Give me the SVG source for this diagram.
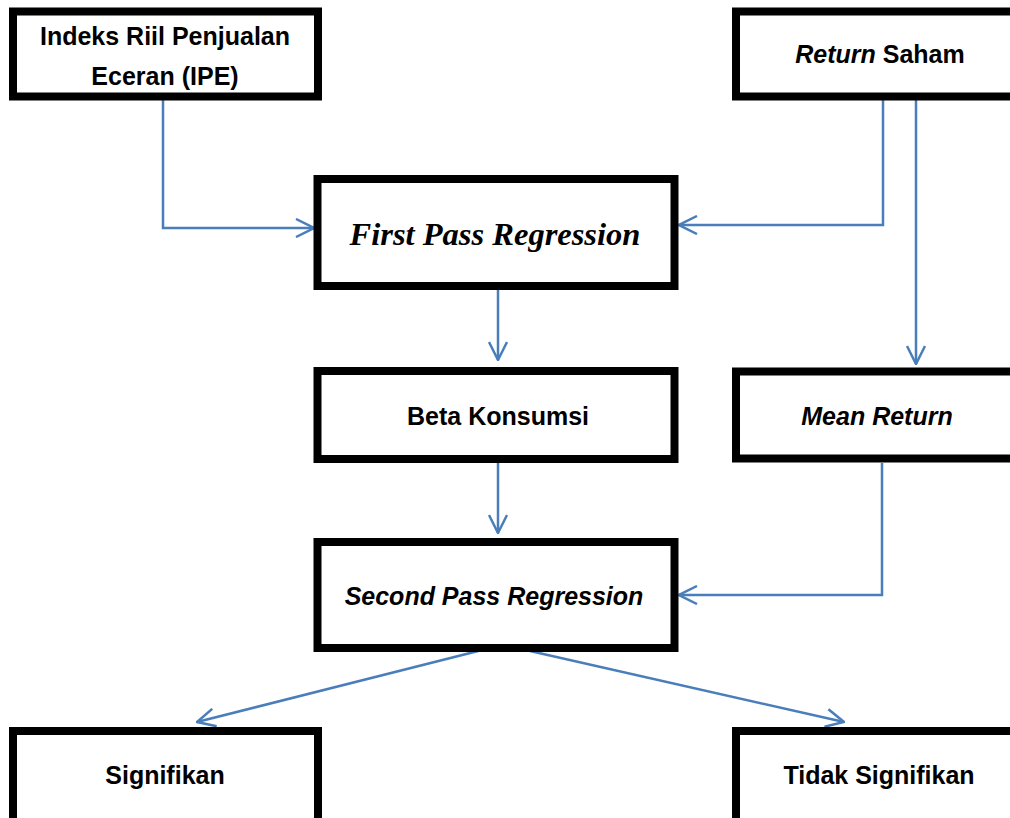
<svg xmlns="http://www.w3.org/2000/svg" width="1010" height="818" viewBox="0 0 1010 818">
<style>
.box{fill:#fff;stroke:#000;stroke-width:8}
.t{font-family:"Liberation Sans",Arial,sans-serif;font-weight:bold;font-size:25px;fill:#000;text-anchor:middle}
.i{font-style:italic}
.ser{font-family:"Liberation Serif","Times New Roman",serif;font-weight:bold;font-style:italic;font-size:32.5px;fill:#000;text-anchor:middle}
.c{fill:none;stroke:#4a7ebb;stroke-width:2.5}
</style>
<defs>
<marker id="a" viewBox="0 0 20 20" refX="19" refY="10" markerWidth="20" markerHeight="20" markerUnits="userSpaceOnUse" orient="auto">
<path d="M1,1 L19,10 L1,19" fill="none" stroke="#4a7ebb" stroke-width="2.5"/>
</marker>
</defs>
<rect width="1010" height="818" fill="#fff"/>
<g id="connectors">
<path class="c" d="M163,100 V228 H314" marker-end="url(#a)"/>
<path class="c" d="M883,97 V225 H679" marker-end="url(#a)"/>
<path class="c" d="M916,97 V364" marker-end="url(#a)"/>
<path class="c" d="M498,290 V360" marker-end="url(#a)"/>
<path class="c" d="M498,463 V533" marker-end="url(#a)"/>
<path class="c" d="M882,463 V595 H679" marker-end="url(#a)"/>
<path class="c" d="M490,648 L197,722" marker-end="url(#a)"/>
<path class="c" d="M530,651 L844,722" marker-end="url(#a)"/>
</g>
<g id="ipe">
<rect class="box" x="13" y="11.5" width="305" height="85"/>
<text class="t" x="165" y="45">Indeks Riil Penjualan</text>
<text class="t" x="165" y="85">Eceran (IPE)</text>
</g>
<g id="return-saham">
<rect class="box" x="736" y="11.5" width="300" height="85"/>
<text class="t" x="880" y="63"><tspan class="i">Return</tspan>  Saham</text>
</g>
<g id="first-pass">
<rect class="box" x="317.5" y="179" width="357" height="107"/>
<text class="ser" x="495" y="245">First Pass Regression</text>
</g>
<g id="beta">
<rect class="box" x="317.5" y="371" width="357" height="88"/>
<text class="t" x="498" y="425">Beta Konsumsi</text>
</g>
<g id="mean-return">
<rect class="box" x="736" y="371.5" width="300" height="87"/>
<text class="t i" x="877" y="425">Mean Return</text>
</g>
<g id="second-pass">
<rect class="box" x="317.5" y="542" width="357" height="106"/>
<text class="t i" x="494" y="605">Second Pass Regression</text>
</g>
<g id="signifikan">
<rect class="box" x="13" y="731" width="305" height="100"/>
<text class="t" x="165" y="784">Signifikan</text>
</g>
<g id="tidak-signifikan">
<rect class="box" x="736" y="731" width="300" height="100"/>
<text class="t" x="879" y="784">Tidak Signifikan</text>
</g>
</svg>
